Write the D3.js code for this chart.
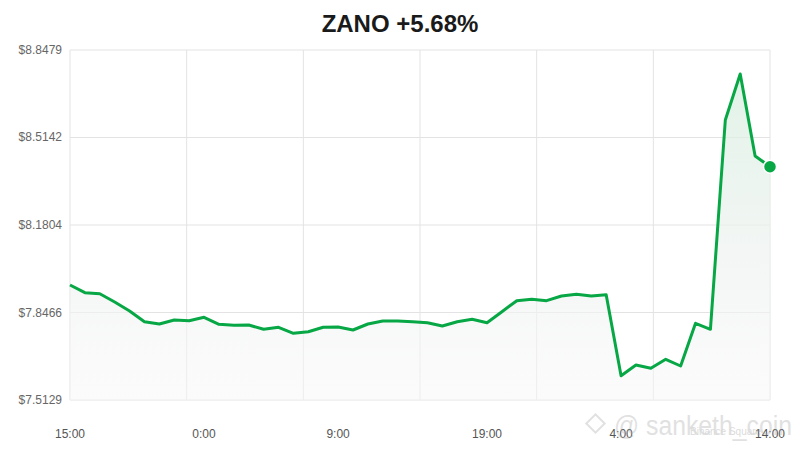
<!DOCTYPE html>
<html><head><meta charset="utf-8">
<script src="https://cdn.jsdelivr.net/npm/d3@7/dist/d3.min.js"></script>
<style>body{margin:0;background:#fff;}svg{display:block;font-family:"Liberation Sans",Arial,sans-serif;}</style>
</head><body>
<svg id="c" width="800" height="450"></svg>
<script>
const title = "ZANO +5.68%";
const startTime = "2024-01-01T15:00:00";
const prices = [7.9515,7.9222,7.9184,7.8867,7.8524,7.8116,7.8028,7.8180,7.8154,7.8283,
  7.8016,7.7978,7.7990,7.7826,7.7902,7.7673,7.7734,7.7902,7.7910,7.7799,
  7.8028,7.8142,7.8142,7.8116,7.8077,7.7952,7.8116,7.8207,7.8077,7.8497,
  7.8917,7.8970,7.8917,7.9096,7.9161,7.9096,7.9142,7.6056,7.6464,7.6338,
  7.6681,7.6426,7.8055,7.7826,8.5809,8.7564,8.4436,8.4028];
const yTicks = [7.5129,7.8466,8.1804,8.5142,8.8479];
const xTickLabels = ["15:00","0:00","9:00","19:00","4:00","14:00"];
const xTickHours = [0,9,18,28,37,47];
const gridHours = [0,47/6,47*2/6,47*3/6,47*4/6,47*5/6,47];

const svg = d3.select("#c");
const m = {l:70,r:770,t:50,b:400};
const t0 = new Date(startTime);
const hr = 3600*1000;
const data = prices.map((v,i)=>({t:new Date(+t0+i*hr), v}));
const x = d3.scaleTime().domain([t0, new Date(+t0+47*hr)]).range([m.l,m.r]);
const y = d3.scaleLinear().domain([yTicks[0], yTicks[yTicks.length-1]]).range([m.b,m.t]);

const defs = svg.append("defs");
const g = defs.append("linearGradient").attr("id","fill").attr("x1",0).attr("y1",0).attr("x2",0).attr("y2",1);
g.append("stop").attr("offset","0%").attr("stop-color","#d7efe0").attr("stop-opacity",0.75);
g.append("stop").attr("offset","55%").attr("stop-color","#eef2f0").attr("stop-opacity",0.7);
g.append("stop").attr("offset","100%").attr("stop-color","#f7f7f7").attr("stop-opacity",0.5);

// title
svg.append("text").attr("x",400).attr("y",32).attr("text-anchor","middle")
  .attr("font-size",24).attr("font-weight","bold").attr("fill","#1a1a1a").text(title);

// grid
svg.append("g").selectAll("line").data(yTicks).join("line")
  .attr("x1",m.l).attr("x2",m.r).attr("y1",d=>y(d)).attr("y2",d=>y(d))
  .attr("stroke","#e3e3e3").attr("stroke-width",1);
svg.append("g").selectAll("line").data(gridHours).join("line")
  .attr("x1",d=>x(new Date(+t0+d*hr))).attr("x2",d=>x(new Date(+t0+d*hr)))
  .attr("y1",m.t).attr("y2",m.b).attr("stroke","#e3e3e3").attr("stroke-width",1);

// y labels
svg.append("g").selectAll("text").data(yTicks).join("text")
  .attr("x",62).attr("y",d=>y(d)+4).attr("text-anchor","end")
  .attr("font-size",12).attr("fill","#666").text(d=>"$"+d.toFixed(4));

// x labels
svg.append("g").selectAll("text").data(xTickHours).join("text")
  .attr("x",d=>x(new Date(+t0+d*hr))).attr("y",438).attr("text-anchor","middle")
  .attr("font-size",12).attr("fill","#555").text((d,i)=>xTickLabels[i]);

// area
const area = d3.area().x(d=>x(d.t)).y0(m.b).y1(d=>y(d.v));
svg.append("path").datum(data).attr("d",area).attr("fill","url(#fill)");
const line = d3.line().x(d=>x(d.t)).y(d=>y(d.v));
svg.append("path").datum(data).attr("d",line).attr("fill","none")
  .attr("stroke","#07a745").attr("stroke-width",3).attr("stroke-linejoin","round");
const last = data[data.length-1];
svg.append("circle").attr("cx",x(last.t)).attr("cy",y(last.v)).attr("r",6.5)
  .attr("fill","#07a745").attr("stroke","#fff").attr("stroke-width",1.5);

// watermark
const wm = svg.append("g").attr("opacity",0.35);
wm.append("rect").attr("x",589).attr("y",417).attr("width",13).attr("height",13)
  .attr("transform","rotate(45 595.5 423.5)").attr("fill","none").attr("stroke","#aaa").attr("stroke-width",2);
wm.append("text").attr("x",614).attr("y",435).attr("font-size",27).attr("fill","#aaa")
  .attr("textLength",178).attr("lengthAdjust","spacingAndGlyphs").text("@ sanketh_coin");
wm.append("text").attr("x",690).attr("y",435).attr("font-size",10).attr("fill","#999").text("Binance Square");
</script>
</body></html>
